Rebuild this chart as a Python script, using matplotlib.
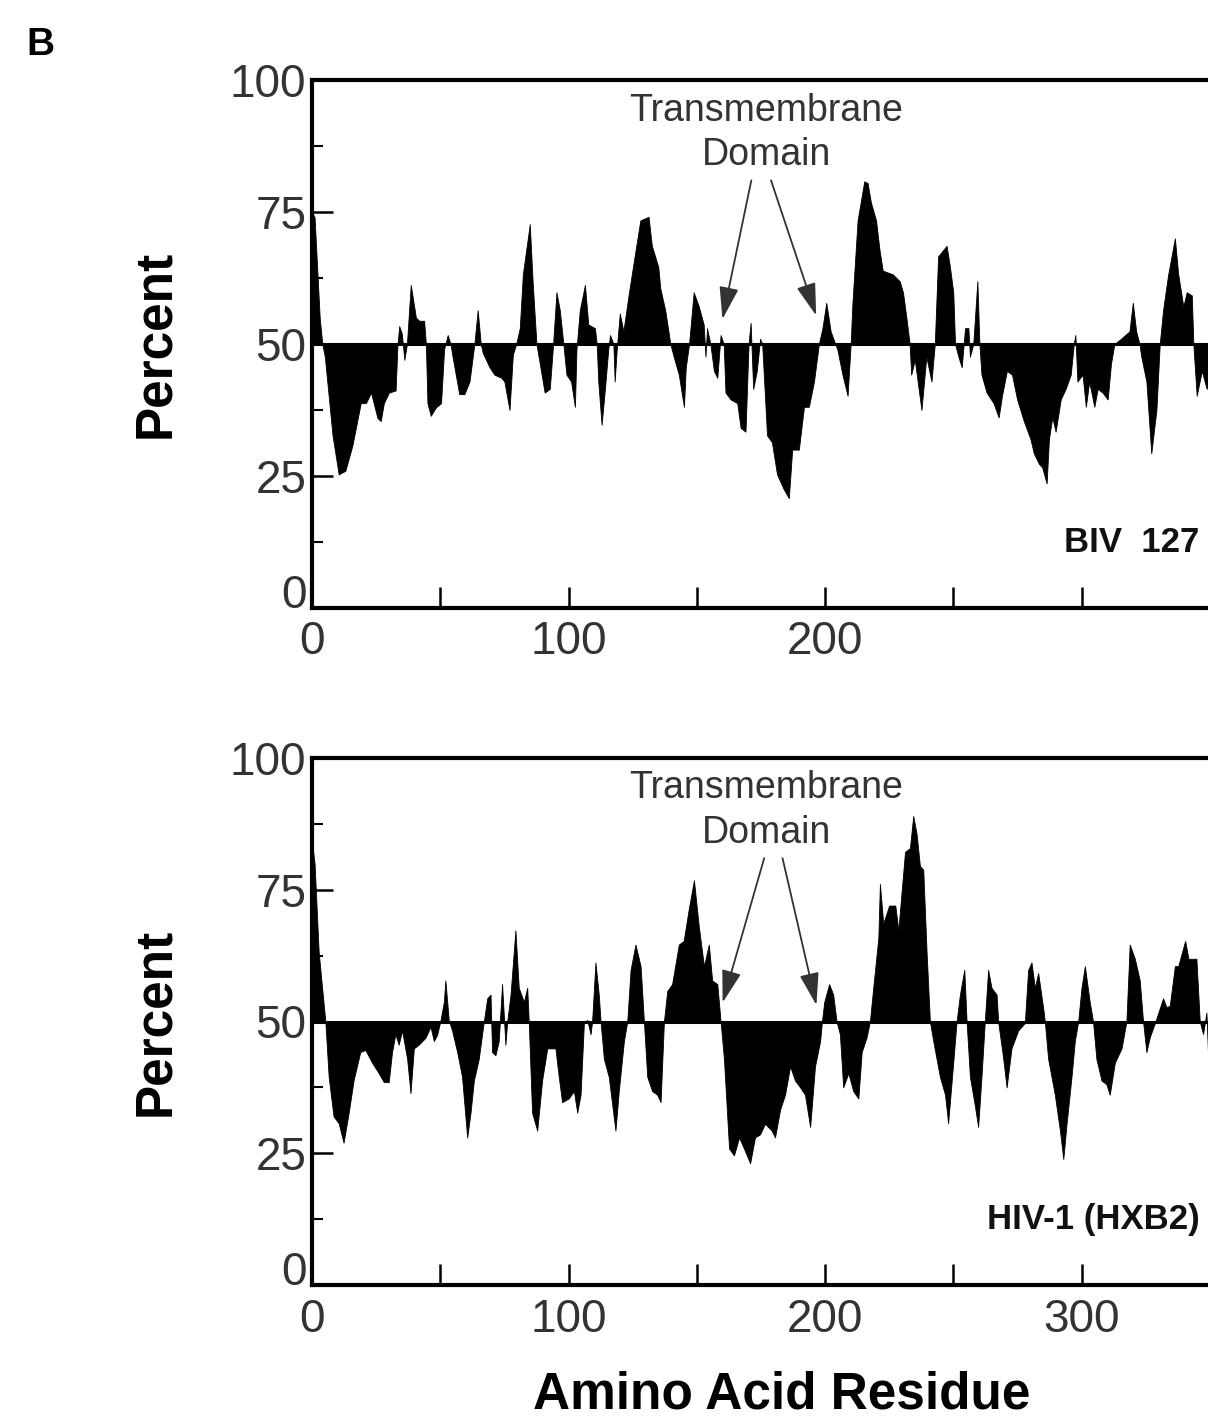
import matplotlib
matplotlib.use("Agg")
import matplotlib.pyplot as plt
import numpy as np

plt.rcParams['font.family'] = ['Liberation Sans', 'DejaVu Sans']

# --- data ---
biv_res = [0, 1, 3, 4, 5, 8, 10.4, 13, 15.7, 19, 21, 23, 25.5, 26.8, 28, 30, 32.6, 33.3, 34, 35, 36, 37,
           38.5, 40.5, 41.8, 43.7, 44.4, 45, 46.3, 48.3, 50.3, 51.5, 52.9, 54, 54.8, 57.4, 59.4, 61.4, 63.3,
           64.6, 65.8, 66.6, 69.2, 71.1, 73.8, 75, 77, 78.3, 79.6, 81, 82.2, 84.9, 86, 87.5, 88.8, 90.7, 92.7,
           94, 95.3, 96.6, 98, 99.2, 101, 102.5, 103.1, 104.4, 106.4, 107.7, 110.3, 111, 111.6, 112.9, 114.2,
           115.5, 116.2, 117.5, 118, 118.8, 120, 121.4, 123.4, 126, 128, 131.2, 132.5, 135, 135.8, 137.7,
           139.7, 141, 143, 145, 145.7, 147, 148.8, 150.8, 152.7, 153.4, 154, 155.3, 156.7, 158, 159.3,
           160.5, 161.2, 163.2, 165.8, 167.1, 169, 170.2, 171, 172, 173.4, 174.7, 175.5, 177.4, 179.3,
           181.3, 183.9, 185.9, 187.2, 189.8, 191.8, 193.7, 195.7, 197.6, 199, 200.5, 202.2, 204, 204.8,
           206.8, 208.8, 210, 210.7, 212.7, 215.3, 216.6, 217.9, 219.9, 221.2, 222.5, 226.4, 229.1, 230.4,
           231.7, 233, 233.6, 235, 237.6, 239.5, 241.5, 242.8, 244.1, 247.4, 248.7, 250, 250.7, 252, 253.3,
           254.6, 255.9, 256.5, 257.8, 259.4, 260.2, 261, 263, 265.7, 267.7, 269, 270.9, 272.9, 274.9,
           277.5, 280.1, 281.4, 283.4, 284.7, 286.4, 287.3, 288.6, 289.9, 291.9, 293.8, 295.8, 297, 297.6,
           298.4, 300.4, 301.7, 303, 305, 306.3, 308.2, 310.2, 311.5, 312.8, 315.4, 318.7, 320, 321.3,
           322.6, 323.3, 325.3, 327.2, 329.2, 330.5, 331.8, 333.8, 336.4, 337.7, 339.7, 341, 343, 343.6,
           344.9, 346.9, 348.8, 350, 352, 355]
biv_pct = [75, 74, 55, 50, 47.6, 32.7, 25.3, 26, 30.7, 38.8, 38.8, 40.8, 36, 35.4, 38.8, 40.8, 41.2, 49.7,
           53.4, 52, 47, 50, 61.2, 55, 54.4, 54.4, 50, 38.8, 36.4, 38, 38.8, 49, 51.7, 50, 47.6, 40.5, 40.5,
           42.9, 50, 56.4, 50, 48.3, 45.6, 44.2, 43.6, 42.9, 37.5, 48, 50, 53, 63.2, 72.7, 61.9, 50, 46.3,
           40.8, 41.5, 50, 59.8, 56.4, 50, 44.2, 42.9, 38.1, 49, 56.4, 61.2, 53.7, 53, 50, 42.9, 34.7, 41.5,
           49, 51.7, 50, 42.9, 49, 55.8, 52.4, 59.2, 67.3, 73.4, 74.1, 68.6, 64.6, 60.5, 56.4, 50, 47.6, 44.2,
           38.1, 45.5, 50, 59.8, 57.1, 53.7, 47.6, 53, 50, 44.9, 43.6, 51.7, 50, 40.8, 39.5, 38.8, 34.1,
           33.4, 50, 54, 41.5, 44.9, 51, 50, 32.7, 31.4, 25.3, 22.5, 20.8, 30, 30, 38.1, 38.1, 42.9, 50, 53,
           57.8, 52.4, 50, 49, 44.2, 40.2, 50, 57.8, 73.4, 80.8, 80.5, 76.8, 73.4, 68, 63.9, 63.2, 61.9,
           59.8, 55.1, 50, 44.2, 47, 37.5, 47.6, 42.9, 50, 66.6, 68.6, 64.6, 59.8, 50, 47.6, 45.6, 53, 53,
           47.6, 50, 61.9, 50, 44.2, 40.8, 38.8, 36.1, 40.2, 44.9, 44.2, 39.5, 35.4, 32, 29.3, 27.3, 26.6,
           23.6, 32, 36.1, 33.4, 39.5, 41.5, 44.2, 50, 51.7, 42.9, 44.2, 38.1, 42.9, 38.1, 41.5, 40.8, 39.5,
           46.3, 50, 51, 52.4, 57.8, 52.4, 50, 47.6, 42.9, 29.3, 37.5, 50, 56.4, 63.2, 70, 63.2, 57.1, 59.8,
           59.2, 50, 40.2, 44.9, 41.5, 44.2, 46, 50]

hiv_res = [0, 1, 2.6, 5.2, 6.5, 8.4, 10.4, 12.3, 14.3, 16.2, 18.8, 20.8, 23.4, 26, 28, 29.9, 31.2, 32.5,
           33.8, 35.1, 37.1, 38.4, 39.7, 41.6, 44.2, 46.2, 47.5, 48.8, 50, 51.4, 52, 53.3, 54.6, 56.6, 58.5,
           60.5, 61.8, 63.1, 65, 66.9, 68.3, 69.6, 70.2, 71.5, 72.8, 74.1, 75.4, 76.1, 77.4, 79.3, 80.6,
           82.6, 83.9, 84.5, 85.8, 87.8, 89.7, 91.7, 94.9, 96.2, 97.5, 100.1, 102.1, 103.4, 104.7, 106,
           107.3, 108.6, 109.2, 110.5, 111.8, 112.5, 113.8, 115.7, 118.3, 119.6, 121.6, 122.9, 124.2, 126.1,
           128.1, 129.4, 130.7, 132.6, 134.6, 135.9, 137.2, 138.5, 140.4, 143, 144.9, 146.9, 148.9, 150.8,
           152.8, 154.7, 156, 158, 159.3, 160.6, 162.6, 164.5, 166.5, 168.4, 170.8, 172.7, 174.7, 176.6,
           179.2, 180.5, 182.5, 184.4, 186.4, 188.3, 190.3, 192.2, 194.2, 196.1, 198.1, 198.8, 199.7, 201.6,
           203.2, 204.5, 205.8, 207.1, 209.1, 211, 213, 214.3, 216.2, 217.5, 218.8, 220.8, 221.4, 222.7,
           225, 227.4, 228.6, 230, 231.2, 233.1, 234.4, 235.7, 237, 238.3, 239.6, 240.9, 242.2, 244.8,
           246.8, 248, 249.4, 251.3, 252.6, 254.3, 255.2, 256.5, 258.4, 259.7, 261, 262.3, 263.6, 264.9,
           266.9, 267.5, 269.5, 270.8, 272.7, 275.3, 277.9, 279.2, 280.5, 281.8, 283.1, 285.1, 285.7, 287,
           289.6, 291.6, 292.9, 294.2, 296.1, 297.4, 298.7, 300, 301.3, 303.2, 304.5, 305.8, 307.8, 309.7,
           311, 313, 315.6, 317.5, 318.8, 320.8, 322.7, 324, 325.3, 326.6, 328.6, 331.8, 333.1, 334.4,
           336.4, 337.7, 340.4, 341.7, 344.8, 346.1, 347.4, 348.7, 349.4, 352, 355]
hiv_pct = [84, 80, 63.2, 50, 39.5, 32, 30.7, 27, 32.7, 38.8, 44.2, 44.6, 42.2, 40.2, 38.5, 38.5, 44.2,
           47.6, 45.6, 48.3, 42.9, 36.4, 44.9, 45.6, 46.9, 49, 46.3, 47.5, 50, 53.7, 57.8, 50.3, 48.3, 44.2,
           39.5, 28, 32.7, 38.8, 42.9, 49.7, 54.4, 55.1, 44.2, 43.6, 46.3, 57.1, 45.6, 50, 55.1, 67.3, 56.4,
           53.7, 56.4, 50, 32.7, 29.3, 38.8, 44.9, 44.9, 39.5, 34.7, 35.4, 36.8, 32.7, 36.1, 49.7, 50.3,
           47.6, 50, 61.2, 55.1, 50, 42.9, 39.5, 29.3, 36.8, 46.3, 50, 59.8, 64.6, 60.5, 50, 39.5, 36.8,
           36.1, 34.7, 50, 55.8, 57.1, 64.6, 65.3, 71.4, 76.8, 68, 60.5, 64.6, 57.8, 57.1, 50, 42.9, 25.9,
           24.6, 28, 25.9, 23.1, 28, 28.6, 30.6, 29.3, 28, 33.3, 36.1, 41.5, 38.8, 37.5, 36.1, 30, 41.5,
           46.3, 50, 53.7, 57.1, 55.1, 50, 47.6, 37.5, 40.2, 36.8, 35.4, 44.2, 47, 50, 56.4, 65.9, 76.1,
           68.6, 72, 72, 67.3, 75.4, 82.2, 82.9, 89, 85.6, 79.5, 78.8, 63.2, 50, 46.3, 39.5, 36.1, 30.7,
           38.8, 50, 55.1, 59.8, 50, 39.5, 34.1, 30, 39.5, 50, 59.8, 56.4, 55.1, 50, 42.9, 37.5, 44.9, 48.3,
           49.7, 59.8, 61.2, 56.4, 59.2, 52.4, 50, 42.9, 36.1, 29.3, 23.9, 30.7, 39.5, 46.3, 50, 56.4, 60.5,
           53.7, 50, 42.9, 38.8, 38.1, 36.1, 42.2, 44.9, 50, 64.6, 61.9, 57.8, 50, 44.2, 47, 49.7, 54.4,
           52.7, 53, 60.5, 60.5, 65.3, 61.9, 61.9, 50, 47.6, 51.7, 42.9, 45, 50]

y_ticks = [0, 25, 50, 75, 100]
x_ticks = [0, 50, 100, 150, 200, 250, 300, 350]
top_xlabels = ['0', '', '100', '', '200', '', '', '']
bottom_xlabels = ['0', '', '100', '', '200', '', '300', '']

W, H = 1208, 1420
fig = plt.figure(figsize=(W / 100, H / 100), dpi=100)
fig.patch.set_facecolor('white')

px_per_res = 2.565
xmax = 370
ax_w = xmax * px_per_res / W

ax_top = fig.add_axes([312 / W, 1 - 608 / H, ax_w, (608 - 80) / H])
ax_bot = fig.add_axes([312 / W, 1 - 1285 / H, ax_w, (1285 - 758) / H])

tcol = '#333333'


def draw_panel(ax, res, pct, xlabels, name, arrows):
    res = np.array(res)
    pct = np.array(pct)
    ax.fill_between(res, pct, 50, color='black', lw=0.6, interpolate=True)
    ax.axhline(50, color='black', lw=2.2)
    ax.set_xlim(0, xmax)
    ax.set_ylim(0, 100)
    for s in ['left', 'bottom', 'top']:
        ax.spines[s].set_linewidth(3)
    ax.spines['right'].set_visible(False)
    ax.set_yticks(y_ticks)
    ax.set_yticklabels([str(v) for v in y_ticks], fontsize=33, color=tcol)
    ax.get_yticklabels()[0].set_va('baseline')
    ax.set_yticks([12.5, 37.5, 62.5, 87.5], minor=True)
    ax.set_xticks(x_ticks)
    ax.set_xticklabels(xlabels, fontsize=33, color=tcol)
    ax.tick_params(axis='y', which='major', direction='in', length=15, width=1.8, pad=4)
    ax.tick_params(axis='y', which='minor', direction='in', length=8, width=1.5)
    ax.tick_params(axis='x', which='major', direction='in', length=15, width=1.8, pad=9)
    ax.set_ylabel('Percent', fontsize=37, fontweight='bold', labelpad=36)
    ax.text(346, 12.5, name, fontsize=25, fontweight='bold', ha='right', va='center',
            color='#111111')
    # transmembrane domain annotation
    ax.text(177, 90, 'Transmembrane\nDomain', fontsize=27, ha='center', va='center',
            color='#333333', linespacing=1.3)
    for (x0, y0), (x1, y1) in arrows:
        ax.annotate('', xy=(x1, y1), xytext=(x0, y0),
                    arrowprops=dict(arrowstyle='-|>,head_length=1.0,head_width=0.3',
                                    color='#333333', lw=1.3, mutation_scale=20))


draw_panel(ax_top, biv_res, biv_pct, top_xlabels, 'BIV  127',
           [((171.5, 81.5), (159.8, 54.2)), ((178.6, 81.5), (196.9, 54.9))])
draw_panel(ax_bot, hiv_res, hiv_pct, bottom_xlabels, 'HIV-1 (HXB2)',
           [((176.6, 81.5), (159.8, 53.1)), ((183.2, 81.5), (196.9, 52.6))])

fig.text(40 / W, 1 - 45 / H, 'B', fontsize=28, fontweight='bold', ha='center', va='center')
fig.text(782 / W, 1 - 1395 / H, 'Amino Acid Residue', fontsize=37, fontweight='bold',
         ha='center', va='center')

fig.savefig('out.png', dpi=100)
